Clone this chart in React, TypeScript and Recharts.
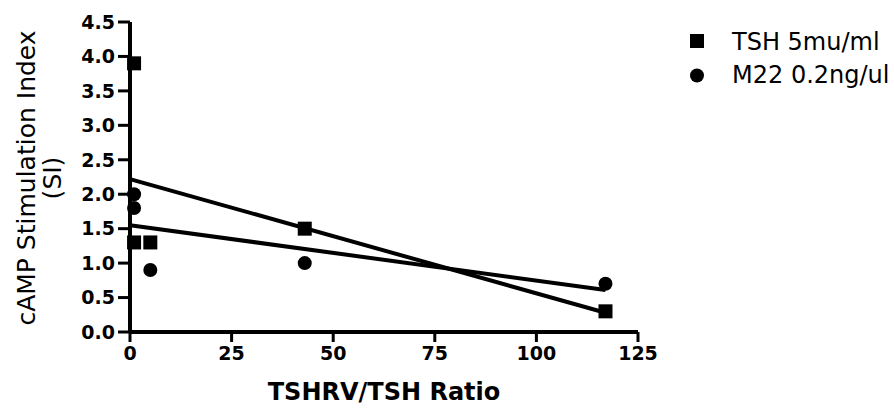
import { ScatterChart, Scatter, XAxis, YAxis } from 'recharts'

const tshX = [1, 1, 5, 43, 117]
const tshY = [3.9, 1.3, 1.3, 1.5, 0.3]
const m22X = [1, 1, 5, 43, 117]
const m22Y = [2.0, 1.8, 0.9, 1.0, 0.7]

// end points of the two fitted lines
const fitX = [0, 117]
const tshFitY = [2.22, 0.28]
const m22FitY = [1.55, 0.61]

const xTicks = [0, 25, 50, 75, 100, 125]
const yTicks = [0, 0.5, 1.0, 1.5, 2.0, 2.5, 3.0, 3.5, 4.0, 4.5]

const seriesNames = ['TSH 5mu/ml', 'M22 0.2ng/ul']
const xTitle = 'TSHRV/TSH Ratio'
const yTitle = ['cAMP Stimulation Index', '(SI)']

const FONT = '"DejaVu Sans", sans-serif'

const toPoints = (xs: number[], ys: number[]) => xs.map((x, i) => ({ x, y: ys[i] }))

const tshData = toPoints(tshX, tshY)
const m22Data = toPoints(m22X, m22Y)
const tshFit = toPoints(fitX, tshFitY)
const m22Fit = toPoints(fitX, m22FitY)

const SquareDot = (props: any) => {
  const { cx, cy } = props
  return <rect x={cx - 7} y={cy - 7} width={14} height={14} fill="#000" />
}

const RoundDot = (props: any) => {
  const { cx, cy } = props
  return <circle cx={cx} cy={cy} r={7} fill="#000" />
}

const NoDot = () => <g />

const XTitle = (props: any) => {
  const { x, y, width } = props.viewBox
  return (
    <text x={x + width / 2} y={y + 68} textAnchor="middle" fontFamily={FONT} fontSize={24} fontWeight="bold" fill="#000">
      {xTitle}
    </text>
  )
}

const YTitle = (props: any) => {
  const { y, height } = props.viewBox
  const cy = y + height / 2 + 1
  return (
    <g fontFamily={FONT} fontSize={25} fill="#000">
      <text x={35} y={cy} transform={`rotate(-90, 35, ${cy})`} textAnchor="middle">
        {yTitle[0]}
      </text>
      <text x={61} y={cy} transform={`rotate(-90, 61, ${cy})`} textAnchor="middle">
        {yTitle[1]}
      </text>
    </g>
  )
}

// legend drawn as an overlay so it takes no room from the plot
const LegendBox = () => (
  <svg width={212} height={70} style={{ position: 'absolute', left: 680, top: 25 }}>
    <rect x={10} y={9} width={14} height={14} fill="#000" />
    <text x={52} y={25} fontFamily={FONT} fontSize={24} fill="#000">{seriesNames[0]}</text>
    <circle cx={17} cy={50.5} r={7} fill="#000" />
    <text x={52} y={58} fontFamily={FONT} fontSize={24} fill="#000">{seriesNames[1]}</text>
  </svg>
)

const tickStyle = { fontFamily: FONT, fontSize: 19, fontWeight: 'bold', fill: '#000' }

export default function App() {
  return (
    <div style={{ position: 'absolute', left: 0, top: 0, width: 894, height: 408, background: '#fff' }}>
      <ScatterChart width={894} height={408} margin={{ top: 22, right: 256, bottom: 0, left: 0 }}>
        <XAxis
          type="number"
          dataKey="x"
          domain={[0, 125]}
          ticks={xTicks}
          interval={0}
          height={76}
          tick={tickStyle}
          tickSize={10}
          tickMargin={5}
          axisLine={{ stroke: '#000', strokeWidth: 4 }}
          tickLine={{ stroke: '#000', strokeWidth: 3 }}
          label={<XTitle />}
        />
        <YAxis
          type="number"
          dataKey="y"
          domain={[0, 4.5]}
          ticks={yTicks}
          interval={0}
          width={130}
          tick={tickStyle}
          tickFormatter={(v: number) => v.toFixed(1)}
          tickSize={12}
          tickMargin={3}
          axisLine={{ stroke: '#000', strokeWidth: 4 }}
          tickLine={{ stroke: '#000', strokeWidth: 3 }}
          label={<YTitle />}
        />
        <Scatter name="tsh fit" data={tshFit} line={{ stroke: '#000', strokeWidth: 4 }} shape={<NoDot />} isAnimationActive={false} legendType="none" />
        <Scatter name="m22 fit" data={m22Fit} line={{ stroke: '#000', strokeWidth: 4 }} shape={<NoDot />} isAnimationActive={false} legendType="none" />
        <Scatter name={seriesNames[0]} data={tshData} shape={<SquareDot />} isAnimationActive={false} />
        <Scatter name={seriesNames[1]} data={m22Data} shape={<RoundDot />} isAnimationActive={false} />
      </ScatterChart>
      <LegendBox />
    </div>
  )
}
